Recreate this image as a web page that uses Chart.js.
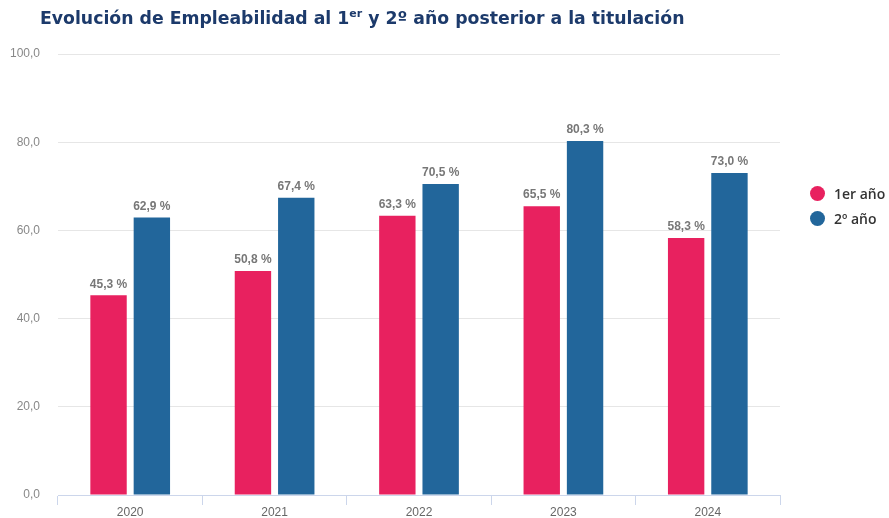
<!DOCTYPE html>
<html>
<head>
<meta charset="utf-8">
<script src="https://cdn.jsdelivr.net/npm/chart.js@4"></script>
<style>
  html, body { margin: 0; padding: 0; background: #fff; }
  #wrap { position: relative; width: 889px; height: 518px; }
  #title {
    position: absolute; left: 40px; top: 8px; margin: 0;
    font: bold 17.3px "DejaVu Sans", Verdana, sans-serif; color: #1c3a6b; white-space: nowrap;
  }
  #title sup { font-size: 11px; vertical-align: 7px; line-height: 0; }
  #legend { position: absolute; left: 810px; top: 181px; font: 600 14px "Open Sans", sans-serif; color: #333; white-space: nowrap; }
  #legend div { display: flex; align-items: center; height: 25px; }
  #legend span.dot { width: 15px; height: 15px; border-radius: 50%; margin-right: 9px; display: inline-block; }
</style>
</head>
<body>
<div id="wrap">
  <canvas id="chart" width="889" height="518"></canvas>
  <h1 id="title">Evolución de Empleabilidad al 1<sup>er</sup> y 2º año posterior a la titulación</h1>
  <div id="legend"></div>
</div>
<script>
const years = ['2020', '2021', '2022', '2023', '2024'];
const firstYear = [45.3, 50.8, 63.3, 65.5, 58.3];
const secondYear = [62.9, 67.4, 70.5, 80.3, 73.0];
const seriesNames = ['1er año', '2º año'];
const colors = ['#e8215f', '#22669b'];

const fmt = v => v.toFixed(1).replace('.', ',');

// draw the "45,3 %" labels above every bar
const valueLabels = {
  id: 'valueLabels',
  afterDatasetsDraw(chart) {
    const ctx = chart.ctx;
    ctx.save();
    ctx.font = 'bold 12px Arial, "Liberation Sans", sans-serif';
    ctx.fillStyle = '#777';
    ctx.textAlign = 'center';
    ctx.textBaseline = 'bottom';
    chart.data.datasets.forEach((ds, i) => {
      chart.getDatasetMeta(i).data.forEach((bar, j) => {
        ctx.fillText(fmt(ds.data[j]) + ' %', bar.x, bar.y - 5);
      });
    });
    ctx.restore();
  }
};

new Chart(document.getElementById('chart'), {
  type: 'bar',
  data: {
    labels: years,
    datasets: [
      { label: seriesNames[0], data: firstYear, backgroundColor: colors[0] },
      { label: seriesNames[1], data: secondYear, backgroundColor: colors[1] }
    ]
  },
  options: {
    responsive: false,
    animation: false,
    categoryPercentage: 0.6,
    barPercentage: 0.84,
    layout: { padding: { top: 54, left: 8, right: 109, bottom: 0 } },
    plugins: { legend: { display: false }, tooltip: { enabled: false } },
    scales: {
      y: {
        min: 0, max: 100,
        afterFit: s => { s.width = 50; s.paddingBottom = 0; },
        ticks: { stepSize: 20, padding: 18, color: '#888', font: { family: 'Arial, "Liberation Sans", sans-serif', size: 12 }, callback: v => fmt(v) },
        grid: { color: '#e6e6e6', drawTicks: false },
        border: { display: false }
      },
      x: {
        afterFit: s => { s.height = 23; s.paddingBottom = 0; },
        ticks: { color: '#666', padding: 0, font: { family: 'Arial, "Liberation Sans", sans-serif', size: 12 } },
        grid: { offset: true, drawOnChartArea: false, tickLength: 10, color: '#ccd6eb' },
        border: { color: '#ccd6eb' }
      }
    }
  },
  plugins: [valueLabels]
});

const legend = document.getElementById('legend');
seriesNames.forEach((name, i) => {
  const row = document.createElement('div');
  row.innerHTML = '<span class="dot" style="background:' + colors[i] + '"></span>' + name;
  legend.appendChild(row);
});
</script>
</body>
</html>
